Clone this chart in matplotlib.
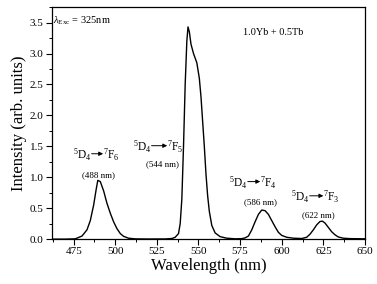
import matplotlib
matplotlib.use('Agg')
import matplotlib.pyplot as plt
from matplotlib.ticker import MultipleLocator

# emission spectrum
wavelength = [462, 470, 476, 480, 483, 485, 487, 488.5, 489.5, 491, 493,
              495, 497, 499, 501, 503, 505, 508, 512, 520, 530, 534, 536,
              538, 539, 540, 541, 542, 543, 543.7, 544.5, 545.5, 547, 549,
              550.5, 551.5, 552.5, 553.5, 554.5, 555.5, 556.5, 558, 560,
              563, 567, 572, 576, 578, 580, 582, 584, 586, 588, 590, 592,
              594, 596, 598, 600, 603, 607, 612, 615, 617, 619, 621, 623,
              624.5, 626, 628, 630, 632, 634, 637, 641, 650]
intensity = [0.0, 0.0, 0.005, 0.05, 0.15, 0.3, 0.55, 0.8, 0.95, 0.93, 0.78,
             0.58, 0.42, 0.28, 0.17, 0.09, 0.045, 0.015, 0.004, 0.002,
             0.003, 0.01, 0.03, 0.09, 0.25, 0.65, 1.5, 2.5, 3.2, 3.43, 3.35,
             3.15, 3.0, 2.85, 2.6, 2.3, 1.9, 1.5, 1.05, 0.7, 0.45, 0.22,
             0.1, 0.04, 0.015, 0.005, 0.008, 0.02, 0.05, 0.15, 0.28, 0.4,
             0.47, 0.46, 0.4, 0.3, 0.2, 0.11, 0.06, 0.03, 0.015, 0.01, 0.03,
             0.08, 0.15, 0.23, 0.285, 0.29, 0.26, 0.19, 0.12, 0.07, 0.035,
             0.015, 0.008, 0.005]

# transition labels: F level, peak text, arrow ends and text places
trans_f = ['6', '5', '4', '3']
trans_nm = ['(488 nm)', '(544 nm)', '(586 nm)', '(622 nm)']
arrow_x0 = [486.1, 522.1, 579.9, 617.1]
arrow_x1 = [492.7, 531.2, 587.1, 625.0]
label_y = [1.36, 1.49, 0.91, 0.68]
nm_x = [489.7, 528.1, 587.4, 622.2]
nm_y = [1.04, 1.21, 0.60, 0.39]

plt.rcParams['font.family'] = ['Liberation Serif', 'DejaVu Sans']
plt.rcParams['mathtext.fontset'] = 'custom'
plt.rcParams['mathtext.rm'] = 'Liberation Serif'
plt.rcParams['mathtext.it'] = 'Liberation Serif:italic'

fig = plt.figure(figsize=(3.77, 2.84), dpi=100)
ax = fig.add_axes([0.138, 0.158, 0.83, 0.817])

ax.plot(wavelength, intensity, color='black', linewidth=1.0)

ax.set_xlim(462, 650)
ax.set_ylim(0, 3.75)
ax.xaxis.set_major_locator(MultipleLocator(25))
ax.xaxis.set_minor_locator(MultipleLocator(12.5))
ax.yaxis.set_major_locator(MultipleLocator(0.5))
ax.yaxis.set_minor_locator(MultipleLocator(0.25))
ax.yaxis.set_major_formatter(matplotlib.ticker.FormatStrFormatter('%.1f'))
ax.tick_params(which='major', direction='out', length=4, width=0.8,
               labelsize=8, pad=2)
ax.tick_params(which='minor', direction='out', length=2, width=0.7)
for s in ax.spines.values():
    s.set_linewidth(0.9)

ax.set_xlabel('Wavelength (nm)', fontsize=12, labelpad=1)
ax.set_ylabel('Intensity (arb. units)', fontsize=12, labelpad=2)

ax.text(0.003, 0.94, r'$\lambda_{\rm Exc}$ = 325nm', transform=ax.transAxes,
        fontsize=7.5, ha='left', va='center')
ax.text(0.705, 0.89, '1.0Yb + 0.5Tb', transform=ax.transAxes,
        fontsize=7.4, ha='center', va='center')

for i in range(len(trans_f)):
    ax.text(arrow_x0[i], label_y[i], r'$^{5}$D$_{4}$', fontsize=8.3,
            ha='right', va='center')
    ax.annotate('', xy=(arrow_x1[i], label_y[i] + 0.02),
                xytext=(arrow_x0[i] - 0.3, label_y[i] + 0.02),
                arrowprops=dict(arrowstyle='-|>', color='black', lw=0.7,
                                mutation_scale=6, shrinkA=0, shrinkB=0))
    ax.text(arrow_x1[i], label_y[i], r'$^{7}$F$_{' + trans_f[i] + '}$',
            fontsize=8.3, ha='left', va='center')
    ax.text(nm_x[i], nm_y[i], trans_nm[i], fontsize=6.5,
            ha='center', va='center')

fig.savefig('out.png', dpi=100)
